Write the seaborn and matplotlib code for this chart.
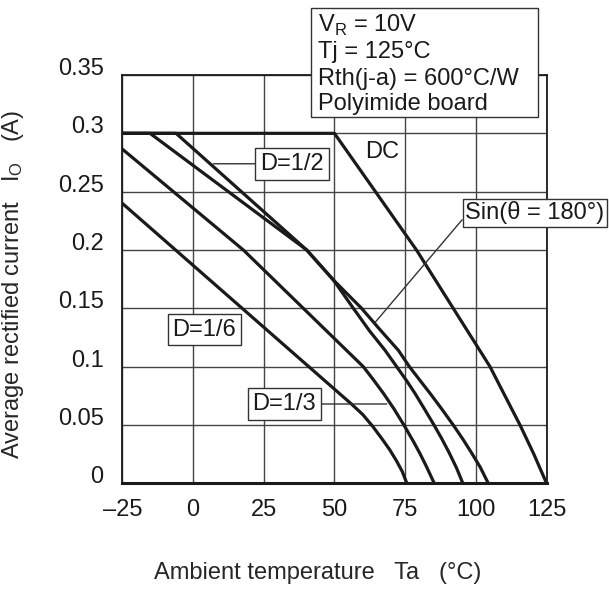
import pandas as pd
import matplotlib
matplotlib.use('Agg')
import matplotlib.pyplot as plt
import seaborn as sns
from matplotlib.patches import Rectangle

# derating curves (Ta in degC, Io in A)
dc_ta = [-25, 50, 79, 85.5, 92, 98.5, 105, 110.5, 115.6, 120.5, 125]
dc_io = [0.3, 0.3, 0.2, 0.175, 0.15, 0.125, 0.1, 0.074, 0.05, 0.025, 0]

sin_ta = [-25, -15.2, 40.2, 49.6, 59.6, 66, 72.6, 76.5, 80, 84, 88, 92, 95.5, 98.5, 101.5, 104.4]
sin_io = [0.3, 0.3, 0.2, 0.1744, 0.15, 0.132, 0.114, 0.1, 0.089, 0.0765, 0.0635, 0.05, 0.0375,
          0.026, 0.014, 0]

d12_ta = [-25, -6, 40.2, 49.6, 56.7, 62.3, 67.9, 72.0, 75.5, 78.5, 82, 85.2, 88, 90.6, 93.2, 95.4]
d12_io = [0.3, 0.3, 0.2, 0.1744, 0.15, 0.131, 0.114, 0.1, 0.088, 0.077, 0.063, 0.05, 0.038,
          0.026, 0.013, 0]

d13_ta = [-25, 17.8, 60.2, 63.7, 67.3, 71, 74.9, 78, 80.2, 82.5, 85.3]
d13_io = [0.2865, 0.2, 0.1, 0.089, 0.0772, 0.064, 0.0486, 0.0355, 0.0257, 0.0145, 0]

d16_ta = [-25, 56, 60, 63.6, 67, 69.6, 72, 74, 75.6]
d16_io = [0.24, 0.068, 0.059, 0.0486, 0.0375, 0.0286, 0.019, 0.010, 0]

xticks = [-25, 0, 25, 50, 75, 100, 125]
xtick_labels = ['\u201325', '0', '25', '50', '75', '100', '125']
yticks = [0, 0.05, 0.1, 0.15, 0.2, 0.25, 0.3, 0.35]
ytick_labels = ['0', '0.05', '0.1', '0.15', '0.2', '0.25', '0.3', '0.35']

cond_lines = ['V$_\\mathrm{R}$ = 10V', 'Tj = 125°C', 'Rth(j-a) = 600°C/W', 'Polyimide board']

curves = {
    'DC': (dc_ta, dc_io),
    'Sin': (sin_ta, sin_io),
    'D=1/2': (d12_ta, d12_io),
    'D=1/3': (d13_ta, d13_io),
    'D=1/6': (d16_ta, d16_io),
}
rows = []
for name, (ta, io) in curves.items():
    for t, i in zip(ta, io):
        rows.append({'curve': name, 'Ta': t, 'Io': i})
df = pd.DataFrame(rows)

sns.set_theme(style='white')
plt.rcParams['font.family'] = ['Liberation Sans', 'DejaVu Sans']
plt.rcParams['mathtext.fontset'] = 'custom'
plt.rcParams['mathtext.rm'] = 'Liberation Sans'
plt.rcParams['text.color'] = '#1a1a1a'

fig = plt.figure(figsize=(6.09, 5.91), dpi=100)
ax = fig.add_axes([0.2008, 0.1822, 0.6967, 0.6909])

sns.lineplot(data=df, x='Ta', y='Io', hue='curve', estimator=None, sort=False,
             palette=['#1a1a1a'] * 5, lw=2.3, legend=False, ax=ax, zorder=3)
for ln in ax.get_lines():
    ln.set_solid_joinstyle('round')

ax.set_xlim(-25, 125)
ax.set_ylim(0, 0.35)
ax.set_xticks(xticks, xtick_labels)
ax.set_yticks(yticks, ytick_labels, va='baseline')
ax.tick_params(length=0, labelsize=17, labelcolor='#1a1a1a')
ax.tick_params(axis='x', pad=11)
ax.tick_params(axis='y', pad=13.5)
ax.grid(True, color='#444444', lw=1.0)
ax.set_axisbelow(True)
for s in ax.spines.values():
    s.set_color('#1a1a1a')
    s.set_linewidth(1.3)
ax.spines['bottom'].set_linewidth(2.2)

ax.set_xlabel('Ambient temperature   Ta   (°C)', fontsize=17)
ax.xaxis.set_label_coords(0.4596, -0.1915)
ax.set_ylabel('Average rectified current   $\\mathrm{I_O}$   (A)', fontsize=17)
ax.yaxis.set_label_coords(-0.227, 0.486)

box = dict(boxstyle='square,pad=0.2', fc='white', ec='#333333', lw=1.0)
lead = dict(arrowstyle='-', color='#333333', lw=1.0, shrinkA=0, shrinkB=0)

ax.text(66.7, 0.2844, 'DC', ha='center', va='center', fontsize=17, zorder=5)
ax.annotate('D=1/2', xy=(7.2, 0.2739), xytext=(35.0, 0.2739), ha='center', va='center',
            fontsize=17, bbox=box, arrowprops=lead, zorder=5)
ax.text(4.06, 0.1317, 'D=1/6', ha='center', va='center', fontsize=17, bbox=box, zorder=5)
ax.annotate('D=1/3', xy=(68.5, 0.068), xytext=(32.3, 0.068), ha='center', va='center',
            fontsize=17, bbox=box, arrowprops=lead, zorder=5)
ax.annotate('Sin(\u03b8 = 180°)', xy=(64.3, 0.1377), xytext=(120.9, 0.2318), ha='center',
            va='center', fontsize=17, bbox=dict(box, boxstyle='square,pad=0.12'),
            arrowprops=dict(lead, relpos=(0.0, 0.37)), annotation_clip=False, zorder=5)

ax.add_patch(Rectangle((0.444, 0.896), 0.536, 0.267, transform=ax.transAxes, fc='white',
                       ec='#333333', lw=1.0, clip_on=False, zorder=6))
for s, yb in zip(cond_lines, [1.106, 1.041, 0.9756, 0.9145]):
    ax.text(0.4605, yb, s, transform=ax.transAxes, va='baseline', fontsize=17, zorder=7)

fig.savefig('out.png', dpi=100)
